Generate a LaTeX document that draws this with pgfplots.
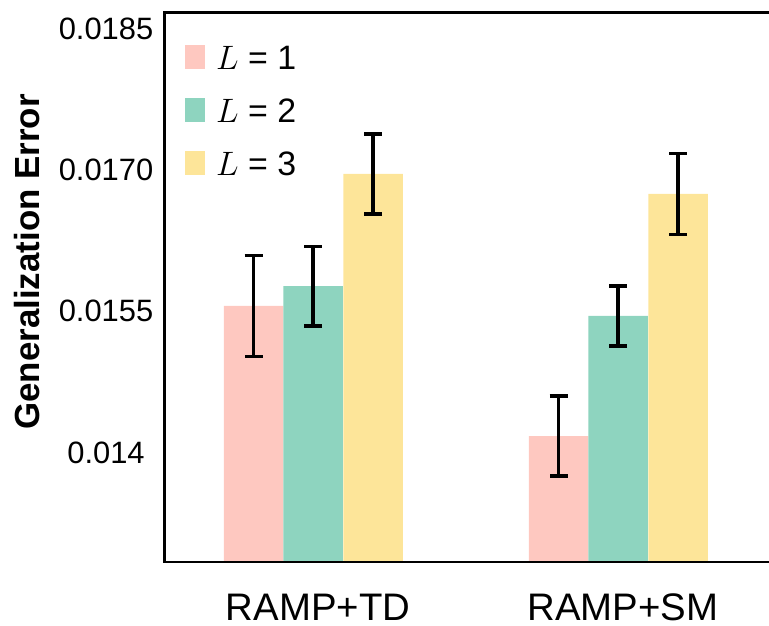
\documentclass[border=0pt]{standalone}
\usepackage{fix-cm}
\usepackage{fontspec}
\setmainfont{Liberation Sans}
\usepackage{pgfplots}
\pgfplotsset{compat=1.18}
\usepackage{pgfplotstable}

\definecolor{lone}{RGB}{254,200,192}
\definecolor{ltwo}{RGB}{142,212,191}
\definecolor{lthree}{RGB}{253,229,153}

% x = bar position (groups at 0 and 1), y = mean error, e = error bar half-length
\pgfplotstableread{
x      y        e
-0.195 0.015555 0.000538
0.805  0.014175 0.000425
}\tabLone
\pgfplotstableread{
x      y        e
0.000  0.015767 0.000422
1.000  0.015449 0.000316
}\tabLtwo
\pgfplotstableread{
x      y        e
0.197  0.016956 0.000425
1.197  0.016744 0.000428
}\tabLthree

\pgfplotsset{
  errbar/.style={
    error bars/.cd,
      y dir=both, y explicit,
      error bar style={line width=3.5bp, black},
      error mark options={line width=3.5bp, black, mark size=9bp, rotate=90},
  },
  barL/.style={
    ybar, bar width=0.195, bar shift=0pt, fill=#1, draw=none,
    legend image code/.code={\fill[fill=#1] (0bp,-12bp) rectangle (20bp,12bp);},
  },
}

\begin{document}
\begin{tikzpicture}
\begin{axis}[
  at={(0,0)}, anchor=south west,
  width=610bp, height=549.5bp, scale only axis,
  xmin=-0.487, xmax=1.513, ymin=0.012838, ymax=0.01867,
  axis line style={draw=none},
  % open frame: left, top and bottom spines only
  after end axis/.code={
    \draw[line width=2.5bp, black, line cap=rect]
      (rel axis cs:1,1) -- (rel axis cs:0,1) -- (rel axis cs:0,0) -- (rel axis cs:1,0);
  },
  xtick={0,1}, xticklabels={RAMP+TD,RAMP+SM},
  ytick={0.014,0.0155,0.017,0.0185},
  yticklabels={0.014,0.0155,0.0170,0.0185},
  scaled y ticks=false,
  major tick length=0pt,
  yticklabel style={font=\fontsize{31}{37}\selectfont, anchor=center, xshift=-58.5bp, inner sep=0pt},
  xticklabel style={font=\fontsize{38.5}{46}\selectfont, anchor=north, inner sep=0pt, yshift=-32bp, xshift=5bp},
  every axis y label/.style={at={(axis description cs:-0.2246,0.546)}, rotate=90, anchor=center},
  ylabel={Generalization Error},
  ylabel style={font=\fontsize{35}{42}\selectfont\bfseries},
  legend style={
    at={(axis description cs:0,1)}, anchor=north west,
    xshift=20.5bp, yshift=-32bp,
    draw=none, fill=none, inner sep=0pt,
    font=\fontsize{34}{40}\selectfont,
    row sep=28bp,
    nodes={inner sep=0pt, text height=25bp, text depth=0pt},
    /tikz/every odd column/.append style={column sep=11bp},
  },
  legend cell align=left,
]
\addplot[barL=lone, errbar] table[x=x, y=y, y error=e] {\tabLone};
\addlegendentry{$L$ = 1}
\addplot[barL=ltwo, errbar] table[x=x, y=y, y error=e] {\tabLtwo};
\addlegendentry{$L$ = 2}
\addplot[barL=lthree, errbar] table[x=x, y=y, y error=e] {\tabLthree};
\addlegendentry{$L$ = 3}
\end{axis}
\pgfresetboundingbox
\useasboundingbox (-164.5bp,-64bp) rectangle (604.5bp,562bp);
\end{tikzpicture}
\end{document}
